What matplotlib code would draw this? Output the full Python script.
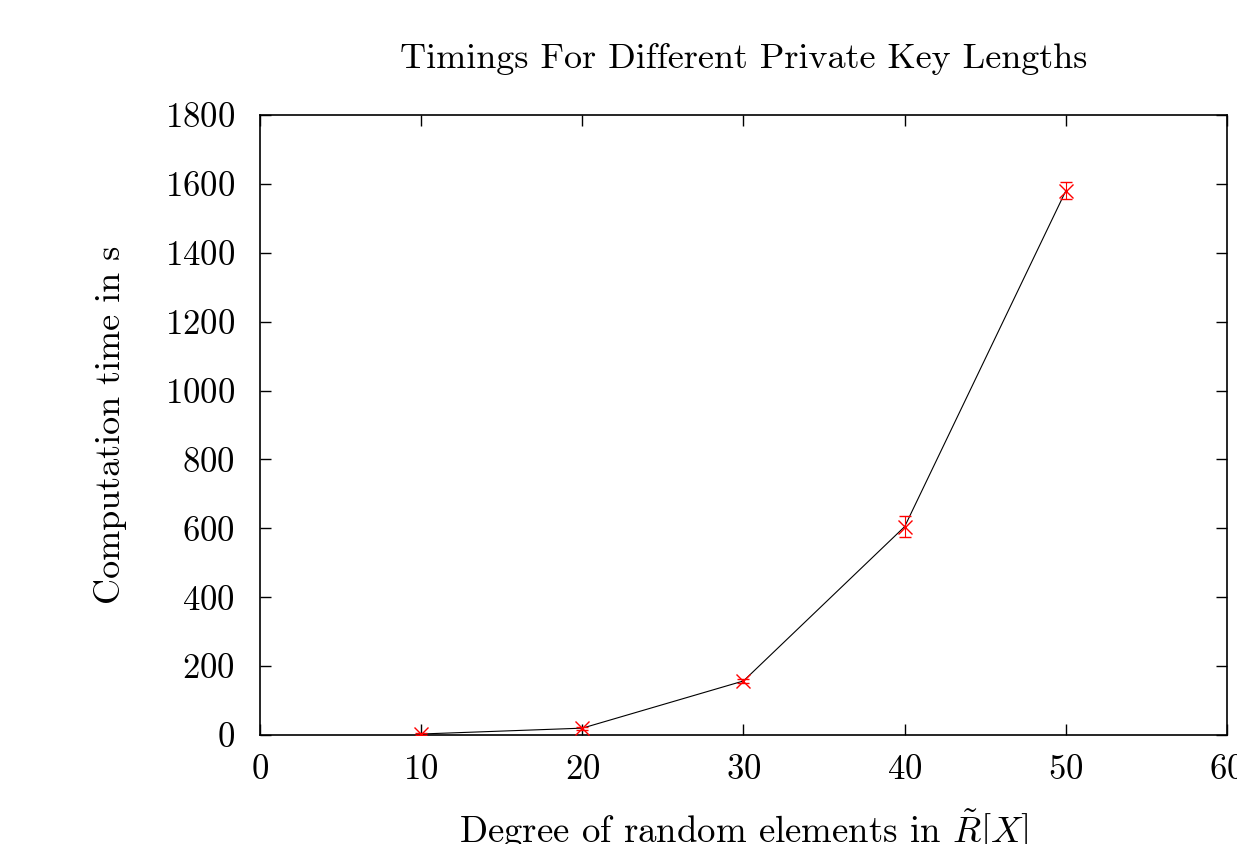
import matplotlib
matplotlib.use("Agg")
import matplotlib.pyplot as plt

# Schluesselgrad und gemessene Zeiten
grad = [10, 20, 30, 40, 50]
zeit = [3, 20, 157, 605, 1580]
fehler = [3, 4, 6, 31, 25]

plt.rcParams['font.family'] = 'cmr10'
plt.rcParams['mathtext.fontset'] = 'cm'
plt.rcParams['axes.formatter.use_mathtext'] = True

fig = plt.figure(figsize=(12.37, 8.44), dpi=100)
ax = fig.add_axes([0.2102, 0.1291, 0.7817, 0.7346])

ax.plot(grad, zeit, color='black', linewidth=0.8, zorder=2)
ax.errorbar(grad, zeit, yerr=fehler, fmt='x', color='red', markersize=10,
            markeredgewidth=1.0, elinewidth=0.8, capsize=4, capthick=0.8, zorder=3)

ax.set_xlim(0, 60)
ax.set_ylim(0, 1800)
ax.set_xticks(range(0, 61, 10))
ax.set_yticks(range(0, 1801, 200))
ax.tick_params(direction='in', length=8, width=1, top=True, right=True,
               labelsize=25)
ax.tick_params(axis='y', pad=18)
ax.tick_params(axis='x', pad=14)
for s in ax.spines.values():
    s.set_linewidth(1.2)

ax.set_title('Timings For Different Private Key Lengths', fontsize=26, pad=34)
ax.set_xlabel(r'Degree of random elements in $\tilde{R}[X]$', fontsize=26.5, labelpad=15)
ax.set_ylabel('Computation time in s', fontsize=26, labelpad=27)

fig.savefig('out.png', dpi=100)
